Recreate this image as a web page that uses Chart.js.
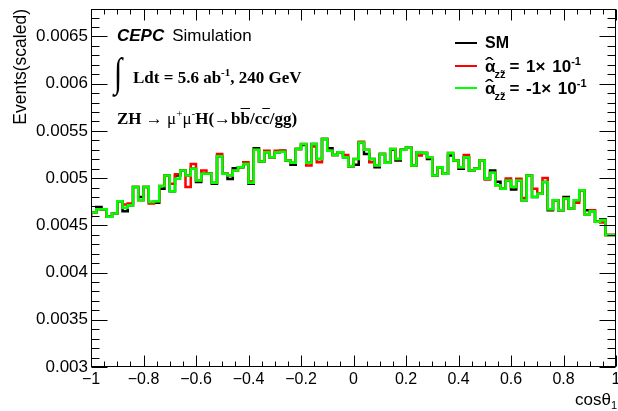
<!DOCTYPE html>
<html>
<head>
<meta charset="utf-8">
<script src="https://cdn.jsdelivr.net/npm/chart.js@4.4.1/dist/chart.umd.min.js"></script>
<style>
  body { margin: 0; background: #fff; }
  #wrap { position: relative; width: 618px; height: 411px; }
  #c { position: absolute; left: 0; top: 0; }
  .t { position: absolute; white-space: nowrap; line-height: 1; color: #000; }
  .sans { font-family: "Liberation Sans", Arial, Helvetica, sans-serif; }
  .serif { font-family: "Liberation Serif", "Times New Roman", serif; font-weight: bold; }
  .up { position: relative; }
  .ln { position: absolute; height: 2px; width: 22px; }
  .al { position: relative; display: inline-block; }
  .hat { position: absolute; left: 0px; top: -3px; font-size: 22px; font-weight: normal; transform: scaleX(1.2); transform-origin: left top; }
</style>
</head>
<body>
<div id="wrap">
  <canvas id="c" width="618" height="411"></canvas>

  <!-- labels drawn over the plot -->
  <div class="t sans" style="left:117px;top:27px;font-size:17px"><b><i>CEPC</i></b><span style="margin-left:8px">Simulation</span></div>
  <div class="t serif" style="left:114px;top:52px;font-size:30px;font-weight:normal;transform:scale(1,1.35);transform-origin:left top">&#8747;</div>
  <div class="t serif" style="left:133px;top:69px;font-size:17px">Ldt = 5.6 ab<span class="up" style="top:-7px;font-size:11px">-1</span>, 240 GeV</div>
  <div class="t serif" style="left:117px;top:110px;font-size:17px">ZH <span style="font-weight:normal">&rarr; &mu;</span><span class="up" style="top:-7px;font-size:11px;font-weight:normal">+</span><span style="font-weight:normal">&mu;</span><span class="up" style="top:-7px;font-size:11px;font-weight:normal">-</span>H(<span style="font-weight:normal">&rarr;</span>b<span style="text-decoration:overline">b</span>/c<span style="text-decoration:overline">c</span>/gg)</div>

  <!-- legend -->
  <div class="ln" style="left:455px;top:42px;background:#000"></div>
  <div class="t sans" style="left:485px;top:35px;font-size:16px;font-weight:bold">SM</div>
  <div class="ln" style="left:455px;top:65px;background:#ff0000"></div>
  <div class="t sans" style="left:485px;top:58px;font-size:17px;font-weight:bold;word-spacing:2px"><span class="al">&alpha;<span class="hat">&#710;</span></span><span class="up" style="top:6px;font-size:11px;margin-left:-1px">zz&#771;</span><span style="margin-left:4px">= 1&times; 10</span><span class="up" style="top:-7px;font-size:11px">-1</span></div>
  <div class="ln" style="left:455px;top:87px;background:#00ff00"></div>
  <div class="t sans" style="left:485px;top:80px;font-size:17px;font-weight:bold;word-spacing:2px"><span class="al">&alpha;<span class="hat">&#710;</span></span><span class="up" style="top:6px;font-size:11px;margin-left:-1px">zz&#771;</span><span style="margin-left:4px">= -1&times; 10</span><span class="up" style="top:-7px;font-size:11px">-1</span></div>

  <!-- x axis title -->
  <div class="t sans" style="right:1px;top:391px;font-size:17px">cos&theta;<span class="up" style="top:4px;font-size:11px">1</span></div>
</div>

<script>
    // Histogram binning
    const xLow = -1;
    const xHigh = 1;

    // Axis ticks
    const yMin = 0.003;
    const yMax = 0.00679;
    const yStep = 0.0005;
    const xStep = 0.2;

    // SM (black)
    const smValues = [
        0.004600, 0.004636, 0.004695, 0.004671, 0.004590, 0.004625, 0.004755, 0.004650, 0.004713, 0.004905,
        0.004800, 0.004905, 0.004748, 0.004740, 0.004888, 0.005028, 0.004860, 0.005028, 0.005080, 0.005028,
        0.005098, 0.004958, 0.005045, 0.005045, 0.004940, 0.005231, 0.005045, 0.004990, 0.005105, 0.005115,
        0.005150, 0.004940, 0.005315, 0.005175, 0.005273, 0.005220, 0.005273, 0.005290, 0.005185, 0.005140,
        0.005308, 0.005350, 0.005161, 0.005360, 0.005203, 0.005413, 0.005315, 0.005245, 0.005273, 0.005220,
        0.005126, 0.005140, 0.005378, 0.005255, 0.005203, 0.005115, 0.005255, 0.005161, 0.005300, 0.005185,
        0.005300, 0.005325, 0.005133, 0.005273, 0.005266, 0.005203, 0.005028, 0.005115, 0.005045, 0.005238,
        0.005185, 0.005098, 0.005220, 0.005080, 0.005098, 0.005185, 0.004993, 0.005080, 0.004960, 0.004888,
        0.004975, 0.004880, 0.004975, 0.004765, 0.005028, 0.004800, 0.004835, 0.004958, 0.004660, 0.004765,
        0.004660, 0.004800, 0.004678, 0.004765, 0.004870, 0.004660, 0.004650, 0.004538, 0.004565, 0.004398
    ];

    // alpha_zz = +0.1 (red)
    const posValues = [
        0.004573, 0.004636, 0.004671, 0.004671, 0.004590, 0.004625, 0.004755, 0.004720, 0.004730, 0.004905,
        0.004765, 0.004905, 0.004730, 0.004755, 0.004916, 0.005028, 0.004940, 0.005040, 0.005080, 0.004905,
        0.005150, 0.004975, 0.005080, 0.005045, 0.004951, 0.005255, 0.005045, 0.005028, 0.005080, 0.005115,
        0.005168, 0.004965, 0.005300, 0.005175, 0.005290, 0.005220, 0.005290, 0.005290, 0.005185, 0.005161,
        0.005308, 0.005360, 0.005133, 0.005335, 0.005168, 0.005413, 0.005290, 0.005245, 0.005273, 0.005245,
        0.005126, 0.005203, 0.005385, 0.005300, 0.005168, 0.005133, 0.005255, 0.005161, 0.005308, 0.005203,
        0.005300, 0.005325, 0.005133, 0.005238, 0.005266, 0.005220, 0.005028, 0.005115, 0.005045, 0.005266,
        0.005185, 0.005115, 0.005245, 0.005080, 0.005098, 0.005185, 0.004985, 0.005056, 0.004923, 0.004888,
        0.004995, 0.004905, 0.004993, 0.004790, 0.005028, 0.004888, 0.004835, 0.005000, 0.004671, 0.004765,
        0.004660, 0.004783, 0.004678, 0.004740, 0.004870, 0.004615, 0.004660, 0.004538, 0.004530, 0.004398
    ];

    // alpha_zz = -0.1 (green)
    const negValues = [
        0.004607, 0.004636, 0.004671, 0.004671, 0.004590, 0.004625, 0.004755, 0.004685, 0.004713, 0.004905,
        0.004765, 0.004905, 0.004748, 0.004755, 0.004916, 0.005028, 0.004860, 0.004993, 0.005080, 0.005028,
        0.005098, 0.004975, 0.005045, 0.005045, 0.004951, 0.005231, 0.005045, 0.005028, 0.005080, 0.005115,
        0.005150, 0.004951, 0.005300, 0.005175, 0.005273, 0.005220, 0.005273, 0.005280, 0.005185, 0.005161,
        0.005308, 0.005360, 0.005161, 0.005360, 0.005203, 0.005413, 0.005290, 0.005245, 0.005273, 0.005220,
        0.005126, 0.005203, 0.005378, 0.005300, 0.005203, 0.005133, 0.005255, 0.005161, 0.005308, 0.005203,
        0.005300, 0.005325, 0.005133, 0.005273, 0.005266, 0.005220, 0.005028, 0.005115, 0.005045, 0.005266,
        0.005185, 0.005115, 0.005220, 0.005080, 0.005098, 0.005185, 0.004993, 0.005056, 0.004923, 0.004888,
        0.004975, 0.004905, 0.004975, 0.004765, 0.005028, 0.004800, 0.004835, 0.004958, 0.004671, 0.004765,
        0.004660, 0.004783, 0.004678, 0.004765, 0.004870, 0.004615, 0.004650, 0.004538, 0.004555, 0.004398
    ];

    // turn bin contents into step points at the low edge of each bin
    function histPoints(values) {
        const w = (xHigh - xLow) / values.length;
        const pts = values.map((v, i) => ({ x: xLow + i * w, y: v }));
        pts.push({ x: xHigh, y: values[values.length - 1] });
        return pts;
    }

    function fmtNum(v) {
        const s = String(Number(v.toFixed(5)));
        return s.replace('-', '\u2212');
    }

    // ROOT style frame with ticks pointing inside, on all four sides
    const rootFrame = {
        id: 'rootFrame',
        afterDraw(chart) {
            const ctx = chart.ctx;
            const a = chart.chartArea;
            const xs = chart.scales.x;
            const ys = chart.scales.y;
            const L = Math.round(a.left) + 0.5, R = Math.round(a.right) - 0.5;
            const T = Math.round(a.top) + 0.5, B = Math.round(a.bottom) - 0.5;
            ctx.save();
            ctx.strokeStyle = '#000';
            ctx.lineWidth = 1;
            ctx.strokeRect(L, T, R - L, B - T);
            ctx.beginPath();
            for (let k = -20; k <= 20; k++) {
                const px = Math.round(xs.getPixelForValue(k * 0.05)) + 0.5;
                const len = (k % 4 === 0) ? 11 : 5;
                ctx.moveTo(px, B); ctx.lineTo(px, B - len);
                ctx.moveTo(px, T); ctx.lineTo(px, T + len);
            }
            for (let k = 30; k <= 67; k++) {
                const py = Math.round(ys.getPixelForValue(k * 0.0001)) + 0.5;
                const len = (k % 5 === 0) ? 16 : 8;
                ctx.moveTo(L, py); ctx.lineTo(L + len, py);
                ctx.moveTo(R, py); ctx.lineTo(R - len, py);
            }
            ctx.stroke();
            ctx.restore();
        }
    };

    const tickFont = { family: '"Liberation Sans", Arial, Helvetica, sans-serif', size: 17 };

    new Chart(document.getElementById('c'), {
        type: 'line',
        data: {
            datasets: [
                { label: 'SM', data: histPoints(smValues), borderColor: '#000000', order: 3 },
                { label: 'alpha = 1e-1', data: histPoints(posValues), borderColor: '#ff0000', order: 2 },
                { label: 'alpha = -1e-1', data: histPoints(negValues), borderColor: '#00ff00', order: 1 }
            ]
        },
        options: {
            responsive: false,
            animation: false,
            layout: { padding: { top: 9, right: 2, left: 0, bottom: 0 } },
            datasets: {
                line: { stepped: 'after', borderWidth: 2.5, pointRadius: 0, fill: false }
            },
            plugins: {
                legend: { display: false },
                tooltip: { enabled: false }
            },
            scales: {
                x: {
                    type: 'linear',
                    min: xLow,
                    max: xHigh,
                    grid: { display: false, drawTicks: false },
                    border: { display: false },
                    ticks: {
                        stepSize: xStep,
                        autoSkip: false,
                        maxRotation: 0,
                        padding: 3,
                        color: '#000',
                        font: { family: tickFont.family, size: 16 },
                        callback: (v) => fmtNum(v)
                    },
                    afterFit(scale) {
                        scale.height = 44;
                        scale.paddingLeft = 0;
                        scale.paddingRight = 0;
                    }
                },
                y: {
                    type: 'linear',
                    min: yMin,
                    max: yMax,
                    grid: { display: false, drawTicks: false },
                    border: { display: false },
                    ticks: {
                        stepSize: yStep,
                        includeBounds: false,
                        autoSkip: false,
                        padding: 3,
                        color: '#000',
                        font: tickFont,
                        callback: (v) => fmtNum(v)
                    },
                    title: {
                        display: true,
                        text: 'Events(scaled)',
                        align: 'end',
                        color: '#000',
                        font: { family: tickFont.family, size: 17.5 },
                        padding: { top: 11, bottom: 0 }
                    },
                    afterFit(scale) {
                        scale.width = 91;
                        scale.paddingTop = 0;
                        scale.paddingBottom = 0;
                    }
                }
            }
        },
        plugins: [rootFrame]
    });
</script>
</body>
</html>
